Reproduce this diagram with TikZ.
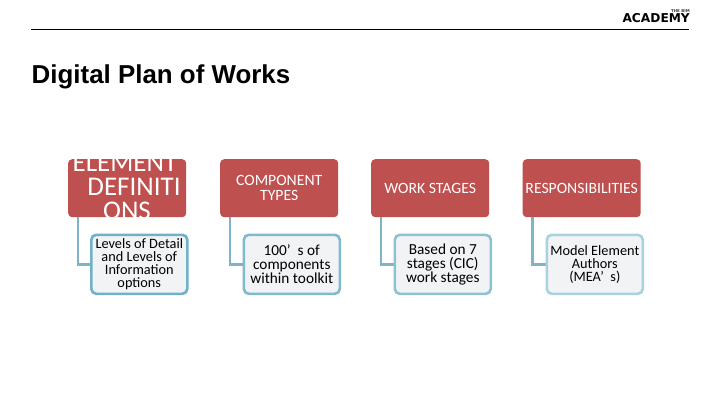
\documentclass[tikz,border=0pt]{standalone}
\usepackage{fontspec}
\usetikzlibrary{backgrounds}
\setmainfont{Carlito}
\newfontfamily\arialf{Liberation Sans}
\newfontfamily\logof{DejaVu Sans}
\definecolor{redbox}{HTML}{BE5150}
\definecolor{linkc}{HTML}{7FB4C6}
\definecolor{edgeA}{HTML}{6FB2C8}
\definecolor{edgeB}{HTML}{80BACB}
\definecolor{edgeC}{HTML}{8FC2D1}
\definecolor{edgeD}{HTML}{A8D2DD}
\definecolor{childfill}{HTML}{F1F3F5}
\tikzset{
  parentbox/.style={rectangle,rounded corners=4pt,fill=redbox,minimum width=118pt,minimum height=58pt,inner sep=0pt,anchor=north west,text=white,align=center,font=\fontsize{15.7}{14.5}\selectfont},
  childbox/.style={rectangle,rounded corners=5pt,draw=#1,line width=2.6pt,fill=childfill,minimum width=96pt,minimum height=59pt,inner sep=0pt,anchor=north west,text=black,align=center,font=\fontsize{14.3}{13}\selectfont},
  childlarge/.style={font=\fontsize{15.3}{14}\selectfont},
  linkline/.style={draw=linkc,line width=2.8pt},
  titletext/.style={font=\arialf\bfseries\fontsize{25.9}{28}\selectfont,anchor=base west,inner sep=0pt},
}
\begin{document}
\begin{tikzpicture}[x=1pt,y=-1pt]
\useasboundingbox (0,0) rectangle (720,405);
\draw[black,line width=0.9pt] (31,29) coordinate (ruleL) -- (689,29) coordinate (ruleR);
\node[font=\logof\bfseries\fontsize{12.2}{12}\selectfont,inner sep=0pt,anchor=base east] (logo) at (690,22) {ACADEMY};
\node[font=\logof\bfseries\fontsize{4}{4}\selectfont,inner sep=0pt,anchor=base east,text=black!75] (logosmall) at (690,12.5) {THE BIM};
\node[titletext] (title) at (31.5,83) {Digital Plan of Works};

\node[parentbox] (p1) at (68,159) {};
\node[parentbox] (p2) at (220,159) {COMPONENT\\TYPES};
\node[parentbox] (p3) at (371,159) {WORK STAGES};
\node[parentbox] (p4) at (522.5,159) {RESPONSIBILITIES};
\begin{scope}
\clip[rounded corners=4pt] (68,159) rectangle (186,217);
\node[inner sep=0pt,text=white,align=center,font=\fontsize{27}{24}\selectfont] (p1t) at (127,187) {\hspace*{-4pt}ELEMENT\\\hspace*{14pt}DEFINITI\\ONS};
\end{scope}

\node[childbox=edgeA] (c1) at (90,233.5) {Levels of Detail\\and Levels of\\Information\\options};
\node[childbox=edgeB,childlarge] (c2) at (242.5,233.5) {100’\ \ s of\\components\\within toolkit};
\node[childbox=edgeC,childlarge] (c3) at (393.5,233.5) {Based on 7\\stages (CIC)\\work stages};
\node[childbox=edgeD] (c4) at (545.5,233.5) {Model Element\\Authors\\(MEA’\ \ s)};

\begin{scope}[on background layer]
\fill[white] (0,0) rectangle (720,405);
\foreach \i in {1,2,3,4}{
  \draw[linkline] ([xshift=10pt]p\i.south west) |- (c\i.west);
}
\end{scope}
\end{tikzpicture}
\end{document}
